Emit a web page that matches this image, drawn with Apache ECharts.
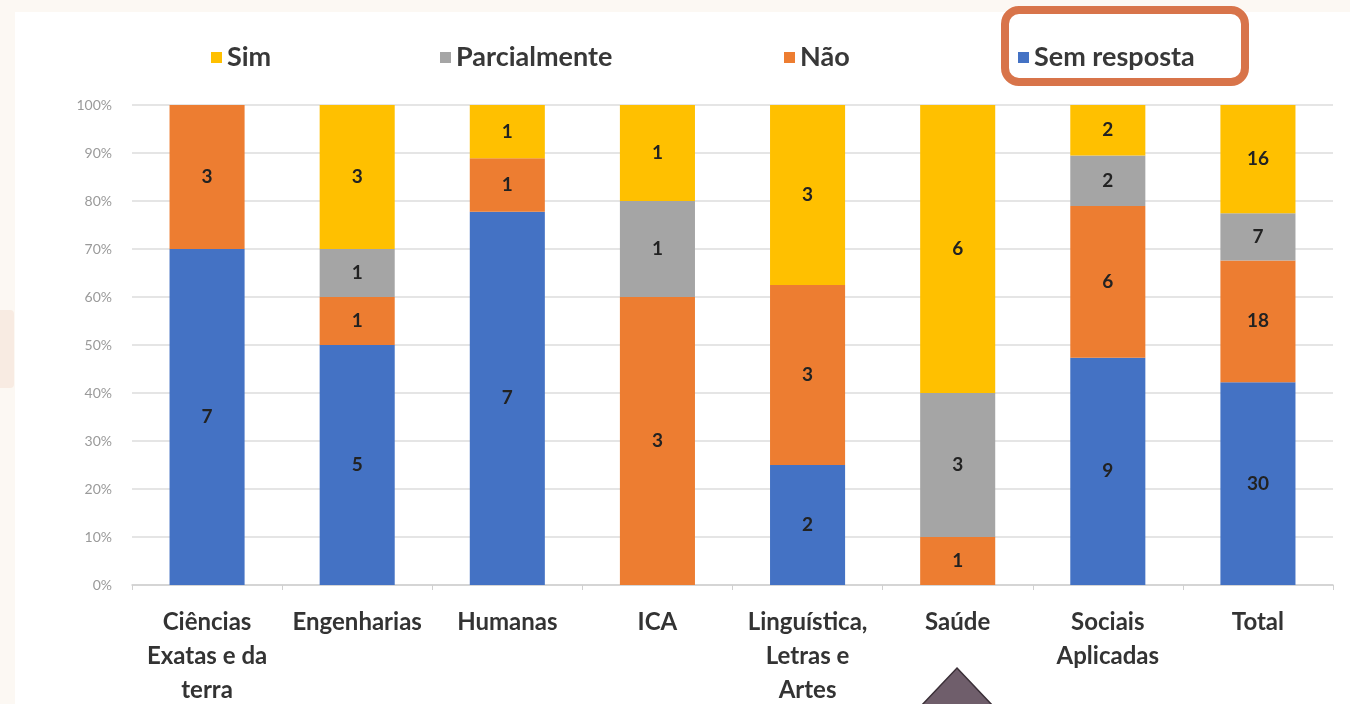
<!DOCTYPE html>
<html>
<head>
<meta charset="utf-8">
<script src="https://cdn.jsdelivr.net/npm/echarts@6/dist/echarts.min.js"></script>
<style>
  html, body { margin: 0; padding: 0; background: #fcf8f3; }
  #chart { width: 1350px; height: 704px; }
</style>
</head>
<body>
<div id="chart"></div>
<script>
// Areas of knowledge (axis categories)
const categories = [
  'Ciências\nExatas e da\nterra',
  'Engenharias',
  'Humanas',
  'ICA',
  'Linguística,\nLetras e\nArtes',
  'Saúde',
  'Sociais\nAplicadas',
  'Total'
];

// Answer counts per area
const semResposta  = [7, 5, 7, 0, 2, 0, 9, 30];
const nao          = [3, 1, 1, 3, 3, 1, 6, 18];
const parcialmente = [0, 1, 0, 1, 0, 3, 2, 7];
const sim          = [0, 3, 1, 1, 3, 6, 2, 16];

// Legend entries, in display order
const legendNames = ['Sim', 'Parcialmente', 'Não', 'Sem resposta'];

const yTicks = { min: 0, max: 100, interval: 10 };

// Per-category totals, used to turn counts into 100% stacked shares
const totals = categories.map((_, i) => semResposta[i] + nao[i] + parcialmente[i] + sim[i]);

const FONT = 'Lato';

function makeSeries(name, counts, color) {
  return {
    name: name,
    type: 'bar',
    stack: 'share',
    barWidth: '50%',
    itemStyle: { color: color },
    data: counts.map((c, i) => ({ value: c / totals[i] * 100, count: c })),
    label: {
      show: true,
      position: 'inside',
      color: '#222222',
      fontFamily: FONT,
      fontWeight: 'bold',
      fontSize: 19,
      formatter: p => (p.data.count ? String(p.data.count) : '')
    }
  };
}

// one legend block per entry so each sits at its own spot across the top
const legendLeft = [206, 435, 779, 1013];
const legends = legendNames.map((n, i) => ({
  data: [n],
  left: legendLeft[i],
  top: 39,
  itemGap: 0,
  itemWidth: 11,
  itemHeight: 11,
  icon: 'rect',
  selectedMode: false,
  textStyle: { fontFamily: FONT, fontWeight: 'bold', fontSize: 27, color: '#383838', padding: [0, 0, 0, 0] }
}));

const chart = echarts.init(document.getElementById('chart'), null, { renderer: 'canvas' });

chart.setOption({
  backgroundColor: '#fcf8f3',
  animation: false,
  graphic: [
    // white slide panel
    { type: 'rect', z: -10, shape: { x: 15, y: 12, width: 1335, height: 692 }, style: { fill: '#ffffff' } },
    // small tab on the left edge
    { type: 'rect', z: -10, shape: { x: 0, y: 310, width: 14, height: 78, r: [0, 4, 4, 0] }, style: { fill: '#f8ebe2' } },
    // highlight frame around the "Sem resposta" legend entry
    { type: 'rect', z: 100, shape: { x: 1005, y: 10, width: 240, height: 72, r: 14 },
      style: { fill: 'none', stroke: '#d8744a', lineWidth: 8 } },
    // pointer triangle at the bottom
    { type: 'polygon', z: 100, shape: { points: [[957, 668], [993, 706], [921, 706]] },
      style: { fill: '#6f5e6b', stroke: '#3b3038', lineWidth: 1.5 } }
  ],
  legend: legends,
  grid: { left: 132, right: 17, top: 105, bottom: 119, containLabel: false, outerBoundsMode: 'none' },
  xAxis: {
    type: 'category',
    data: categories,
    axisLine: { lineStyle: { color: '#d0d0d0', width: 1.5 } },
    axisTick: { show: true, alignWithLabel: false, length: 5, lineStyle: { color: '#d0d0d0' } },
    axisLabel: {
      interval: 0,
      margin: 20,
      fontFamily: FONT,
      fontWeight: 'bold',
      fontSize: 24,
      lineHeight: 34,
      color: '#333333'
    }
  },
  yAxis: {
    type: 'value',
    min: yTicks.min,
    max: yTicks.max,
    interval: yTicks.interval,
    axisLine: { show: false },
    axisTick: { show: false },
    splitLine: { lineStyle: { color: '#dcdcdc', width: 1.5 } },
    axisLabel: {
      formatter: '{value}%',
      margin: 20,
      fontFamily: FONT,
      fontSize: 14,
      color: '#9a9a9a'
    }
  },
  series: [
    makeSeries('Sem resposta', semResposta, '#4472c4'),
    makeSeries('Não', nao, '#ed7d31'),
    makeSeries('Parcialmente', parcialmente, '#a5a5a5'),
    makeSeries('Sim', sim, '#ffc000')
  ]
});
</script>
</body>
</html>
